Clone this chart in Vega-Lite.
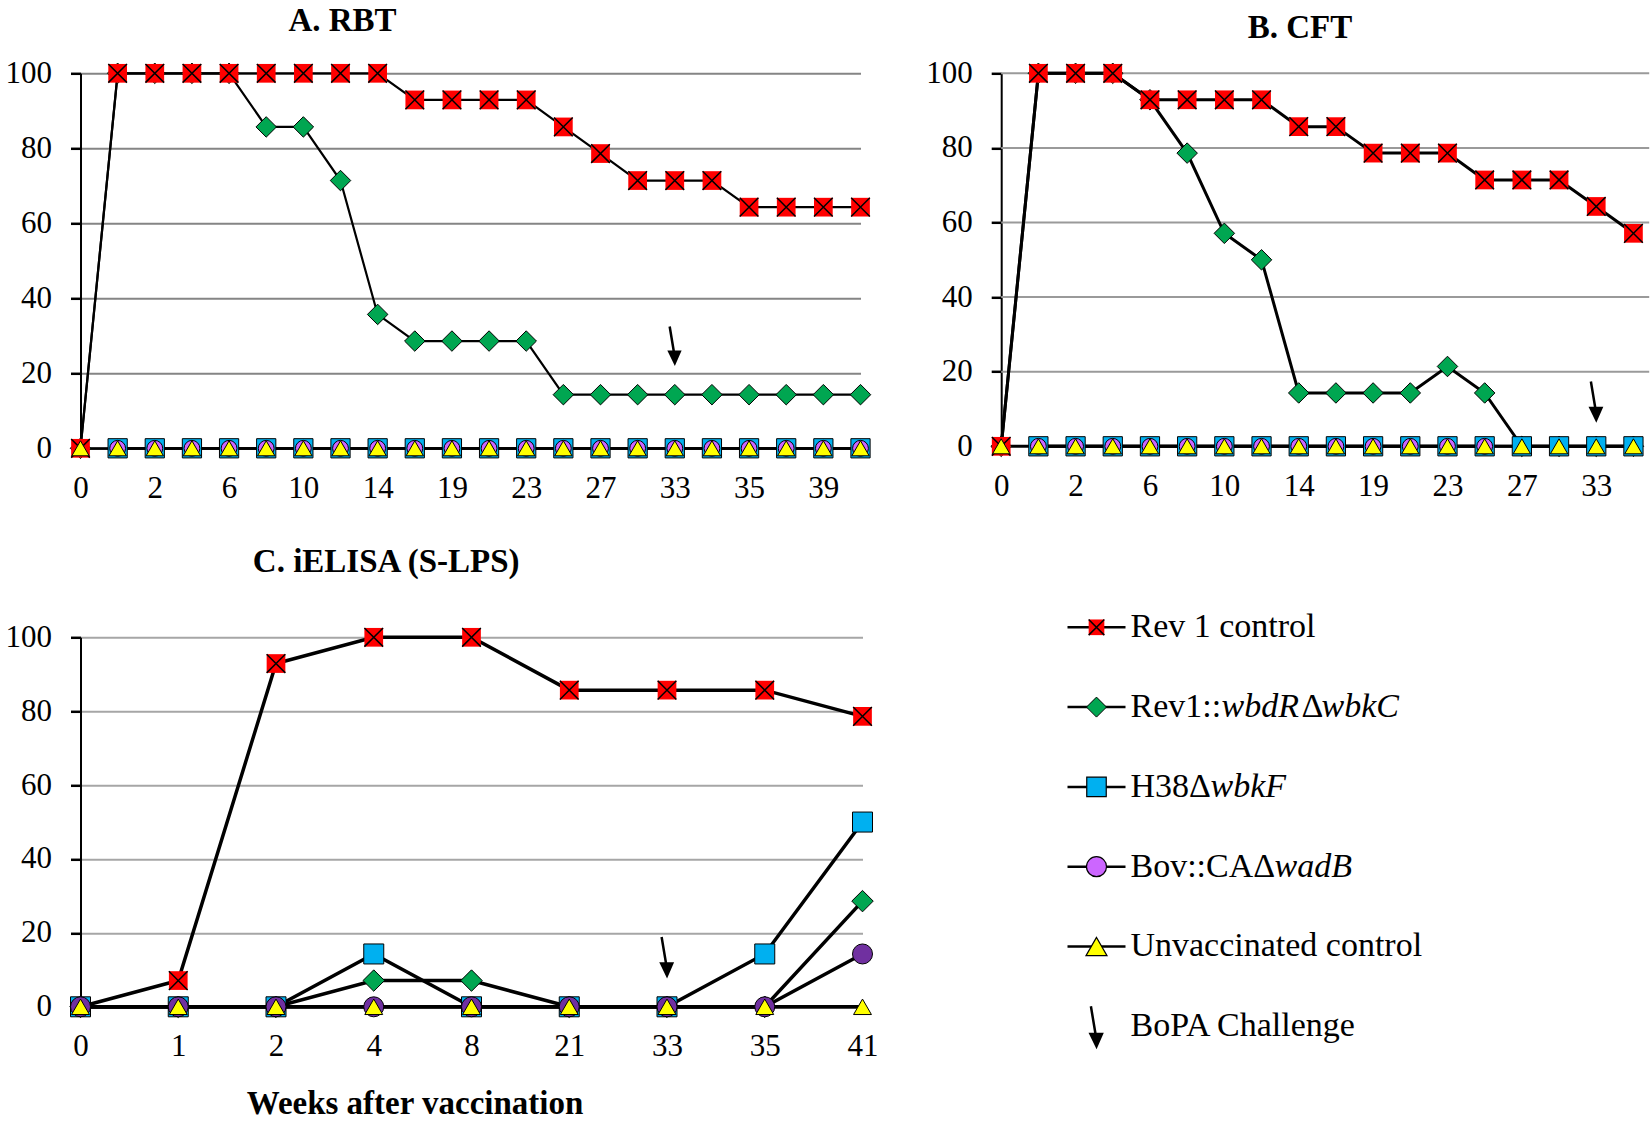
{
  "$schema": "https://vega.github.io/schema/vega-lite/v6.json",
  "usermeta": {"embedOptions": {"actions": false}},
  "background": "white",
  "padding": {"left": 4.5, "top": 4.3, "right": 0, "bottom": 0},
  "config": {
    "view": {"stroke": null},
    "font": "Liberation Serif",
    "title": {"font": "Liberation Serif", "fontSize": 33, "fontWeight": "bold", "color": "black"},
    "axis": {"labelFont": "Liberation Serif", "labelFontSize": 31, "labelColor": "black", "domainColor": "black", "domainWidth": 2, "tickColor": "black", "tickWidth": 2.5, "tickSize": 10, "gridWidth": 2, "gridOpacity": 1, "titleFont": "Liberation Serif", "titleColor": "black"},
    "axisX": {"ticks": false, "labelPadding": 25, "labelAngle": 0, "grid": false, "labelOverlap": false},
    "axisY": {"labelPadding": 19}
  },
  "datasets": {
    "rbt": [
      {"w":0,"s":"rev","v":0},{"w":1,"s":"rev","v":100},{"w":2,"s":"rev","v":100},{"w":4,"s":"rev","v":100},{"w":6,"s":"rev","v":100},{"w":8,"s":"rev","v":100},{"w":10,"s":"rev","v":100},{"w":12,"s":"rev","v":100},{"w":14,"s":"rev","v":100},{"w":16,"s":"rev","v":92.9},{"w":19,"s":"rev","v":92.9},{"w":21,"s":"rev","v":92.9},{"w":23,"s":"rev","v":92.9},{"w":25,"s":"rev","v":85.7},{"w":27,"s":"rev","v":78.6},{"w":29,"s":"rev","v":71.4},{"w":33,"s":"rev","v":71.4},{"w":34,"s":"rev","v":71.4},{"w":35,"s":"rev","v":64.3},{"w":37,"s":"rev","v":64.3},{"w":39,"s":"rev","v":64.3},{"w":41,"s":"rev","v":64.3},
      {"w":0,"s":"wbdR","v":0},{"w":1,"s":"wbdR","v":100},{"w":2,"s":"wbdR","v":100},{"w":4,"s":"wbdR","v":100},{"w":6,"s":"wbdR","v":100},{"w":8,"s":"wbdR","v":85.7},{"w":10,"s":"wbdR","v":85.7},{"w":12,"s":"wbdR","v":71.4},{"w":14,"s":"wbdR","v":35.7},{"w":16,"s":"wbdR","v":28.6},{"w":19,"s":"wbdR","v":28.6},{"w":21,"s":"wbdR","v":28.6},{"w":23,"s":"wbdR","v":28.6},{"w":25,"s":"wbdR","v":14.3},{"w":27,"s":"wbdR","v":14.3},{"w":29,"s":"wbdR","v":14.3},{"w":33,"s":"wbdR","v":14.3},{"w":34,"s":"wbdR","v":14.3},{"w":35,"s":"wbdR","v":14.3},{"w":37,"s":"wbdR","v":14.3},{"w":39,"s":"wbdR","v":14.3},{"w":41,"s":"wbdR","v":14.3},
      {"w":1,"s":"h38","v":0},{"w":2,"s":"h38","v":0},{"w":4,"s":"h38","v":0},{"w":6,"s":"h38","v":0},{"w":8,"s":"h38","v":0},{"w":10,"s":"h38","v":0},{"w":12,"s":"h38","v":0},{"w":14,"s":"h38","v":0},{"w":16,"s":"h38","v":0},{"w":19,"s":"h38","v":0},{"w":21,"s":"h38","v":0},{"w":23,"s":"h38","v":0},{"w":25,"s":"h38","v":0},{"w":27,"s":"h38","v":0},{"w":29,"s":"h38","v":0},{"w":33,"s":"h38","v":0},{"w":34,"s":"h38","v":0},{"w":35,"s":"h38","v":0},{"w":37,"s":"h38","v":0},{"w":39,"s":"h38","v":0},{"w":41,"s":"h38","v":0},
      {"w":1,"s":"bov","v":0},{"w":2,"s":"bov","v":0},{"w":4,"s":"bov","v":0},{"w":6,"s":"bov","v":0},{"w":8,"s":"bov","v":0},{"w":10,"s":"bov","v":0},{"w":12,"s":"bov","v":0},{"w":14,"s":"bov","v":0},{"w":16,"s":"bov","v":0},{"w":19,"s":"bov","v":0},{"w":21,"s":"bov","v":0},{"w":23,"s":"bov","v":0},{"w":25,"s":"bov","v":0},{"w":27,"s":"bov","v":0},{"w":29,"s":"bov","v":0},{"w":33,"s":"bov","v":0},{"w":34,"s":"bov","v":0},{"w":35,"s":"bov","v":0},{"w":37,"s":"bov","v":0},{"w":39,"s":"bov","v":0},{"w":41,"s":"bov","v":0},
      {"w":0,"s":"unv","v":0},{"w":1,"s":"unv","v":0},{"w":2,"s":"unv","v":0},{"w":4,"s":"unv","v":0},{"w":6,"s":"unv","v":0},{"w":8,"s":"unv","v":0},{"w":10,"s":"unv","v":0},{"w":12,"s":"unv","v":0},{"w":14,"s":"unv","v":0},{"w":16,"s":"unv","v":0},{"w":19,"s":"unv","v":0},{"w":21,"s":"unv","v":0},{"w":23,"s":"unv","v":0},{"w":25,"s":"unv","v":0},{"w":27,"s":"unv","v":0},{"w":29,"s":"unv","v":0},{"w":33,"s":"unv","v":0},{"w":34,"s":"unv","v":0},{"w":35,"s":"unv","v":0},{"w":37,"s":"unv","v":0},{"w":39,"s":"unv","v":0},{"w":41,"s":"unv","v":0}
    ],
    "cft": [
      {"w":0,"s":"rev","v":0},{"w":1,"s":"rev","v":100},{"w":2,"s":"rev","v":100},{"w":4,"s":"rev","v":100},{"w":6,"s":"rev","v":92.9},{"w":8,"s":"rev","v":92.9},{"w":10,"s":"rev","v":92.9},{"w":12,"s":"rev","v":92.9},{"w":14,"s":"rev","v":85.7},{"w":16,"s":"rev","v":85.7},{"w":19,"s":"rev","v":78.6},{"w":21,"s":"rev","v":78.6},{"w":23,"s":"rev","v":78.6},{"w":25,"s":"rev","v":71.4},{"w":27,"s":"rev","v":71.4},{"w":29,"s":"rev","v":71.4},{"w":33,"s":"rev","v":64.3},{"w":34,"s":"rev","v":57.1},
      {"w":0,"s":"wbdR","v":0},{"w":1,"s":"wbdR","v":100},{"w":2,"s":"wbdR","v":100},{"w":4,"s":"wbdR","v":100},{"w":6,"s":"wbdR","v":92.9},{"w":8,"s":"wbdR","v":78.6},{"w":10,"s":"wbdR","v":57.1},{"w":12,"s":"wbdR","v":50},{"w":14,"s":"wbdR","v":14.3},{"w":16,"s":"wbdR","v":14.3},{"w":19,"s":"wbdR","v":14.3},{"w":21,"s":"wbdR","v":14.3},{"w":23,"s":"wbdR","v":21.4},{"w":25,"s":"wbdR","v":14.3},{"w":27,"s":"wbdR","v":0},{"w":29,"s":"wbdR","v":0},{"w":33,"s":"wbdR","v":0},{"w":34,"s":"wbdR","v":0},
      {"w":1,"s":"h38","v":0},{"w":2,"s":"h38","v":0},{"w":4,"s":"h38","v":0},{"w":6,"s":"h38","v":0},{"w":8,"s":"h38","v":0},{"w":10,"s":"h38","v":0},{"w":12,"s":"h38","v":0},{"w":14,"s":"h38","v":0},{"w":16,"s":"h38","v":0},{"w":19,"s":"h38","v":0},{"w":21,"s":"h38","v":0},{"w":23,"s":"h38","v":0},{"w":25,"s":"h38","v":0},{"w":27,"s":"h38","v":0},{"w":29,"s":"h38","v":0},{"w":33,"s":"h38","v":0},{"w":34,"s":"h38","v":0},
      {"w":1,"s":"bov","v":0},{"w":2,"s":"bov","v":0},{"w":4,"s":"bov","v":0},{"w":6,"s":"bov","v":0},{"w":8,"s":"bov","v":0},{"w":10,"s":"bov","v":0},{"w":12,"s":"bov","v":0},{"w":14,"s":"bov","v":0},{"w":16,"s":"bov","v":0},{"w":19,"s":"bov","v":0},{"w":21,"s":"bov","v":0},{"w":23,"s":"bov","v":0},{"w":25,"s":"bov","v":0},
      {"w":0,"s":"unv","v":0},{"w":1,"s":"unv","v":0},{"w":2,"s":"unv","v":0},{"w":4,"s":"unv","v":0},{"w":6,"s":"unv","v":0},{"w":8,"s":"unv","v":0},{"w":10,"s":"unv","v":0},{"w":12,"s":"unv","v":0},{"w":14,"s":"unv","v":0},{"w":16,"s":"unv","v":0},{"w":19,"s":"unv","v":0},{"w":21,"s":"unv","v":0},{"w":23,"s":"unv","v":0},{"w":25,"s":"unv","v":0},{"w":27,"s":"unv","v":0},{"w":29,"s":"unv","v":0},{"w":33,"s":"unv","v":0},{"w":34,"s":"unv","v":0}
    ],
    "elisa": [
      {"w":0,"s":"rev","v":0},{"w":1,"s":"rev","v":7.1},{"w":2,"s":"rev","v":92.9},{"w":4,"s":"rev","v":100},{"w":8,"s":"rev","v":100},{"w":21,"s":"rev","v":85.7},{"w":33,"s":"rev","v":85.7},{"w":35,"s":"rev","v":85.7},{"w":41,"s":"rev","v":78.6},
      {"w":0,"s":"wbdR","v":0},{"w":1,"s":"wbdR","v":0},{"w":2,"s":"wbdR","v":0},{"w":4,"s":"wbdR","v":7.1},{"w":8,"s":"wbdR","v":7.1},{"w":21,"s":"wbdR","v":0},{"w":33,"s":"wbdR","v":0},{"w":35,"s":"wbdR","v":0},{"w":41,"s":"wbdR","v":28.6},
      {"w":0,"s":"h38","v":0},{"w":1,"s":"h38","v":0},{"w":2,"s":"h38","v":0},{"w":4,"s":"h38","v":14.3},{"w":8,"s":"h38","v":0},{"w":21,"s":"h38","v":0},{"w":33,"s":"h38","v":0},{"w":35,"s":"h38","v":14.3},{"w":41,"s":"h38","v":50},
      {"w":0,"s":"bov","v":0},{"w":1,"s":"bov","v":0},{"w":2,"s":"bov","v":0},{"w":4,"s":"bov","v":0},{"w":8,"s":"bov","v":0},{"w":21,"s":"bov","v":0},{"w":33,"s":"bov","v":0},{"w":35,"s":"bov","v":0},{"w":41,"s":"bov","v":14.3},
      {"w":0,"s":"unv","v":0},{"w":1,"s":"unv","v":0},{"w":2,"s":"unv","v":0},{"w":4,"s":"unv","v":0},{"w":8,"s":"unv","v":0},{"w":21,"s":"unv","v":0},{"w":33,"s":"unv","v":0},{"w":35,"s":"unv","v":0},{"w":41,"s":"unv","v":0}
    ]
  },
  "columns": 2,
  "bounds": "flush",
  "spacing": {"row": 189, "column": 138.7},
  "concat": [
    {
      "width": 780, "height": 375,
      "title": {"text": "A. RBT", "anchor": "middle", "frame": "group", "dx": -128, "dy": 6.6, "offset": 0, "baseline": "alphabetic"},
      "data": {"name": "rbt"},
      "encoding": {
        "x": {"field": "w", "type": "ordinal", "scale": {"type": "point", "padding": 0, "domain": [0,1,2,4,6,8,10,12,14,16,19,21,23,25,27,29,33,34,35,37,39,41]}, "axis": {"labelExpr": "indexof([0,2,6,10,14,19,23,27,33,35,39], datum.value) >= 0 ? '' + datum.value : ''", "title": null, "labelFont": "Liberation Serif", "labelOverlap": false}},
        "y": {"field": "v", "type": "quantitative", "scale": {"domain": [0,100]}, "axis": {"values": [0,20,40,60,80,100], "title": null, "grid": true, "gridColor": "#858585", "labelFont": "Liberation Serif"}}
      },
      "layer": [
        {"mark": {"type": "line", "color": "black", "strokeWidth": 2.2}, "encoding": {"detail": {"field": "s"}}},
        {"transform": [{"filter": "datum.s == 'wbdR'"}], "mark": {"type": "point", "shape": "diamond", "size": 420, "filled": true, "fill": "#00A651", "stroke": "black", "strokeWidth": 1, "opacity": 1}},
        {"transform": [{"filter": "datum.s == 'rev'"}], "mark": {"type": "point", "shape": "square", "size": 350, "filled": true, "fill": "#FF0000", "strokeWidth": 0, "opacity": 1}},
        {"transform": [{"filter": "datum.s == 'rev'"}], "mark": {"type": "point", "shape": "M-1,-1L1,1M1,-1L-1,1", "size": 350, "filled": false, "stroke": "black", "strokeWidth": 1.5, "opacity": 1}},
        {"transform": [{"filter": "datum.s == 'h38'"}], "mark": {"type": "point", "shape": "square", "size": 370, "filled": true, "fill": "#00B0F0", "stroke": "black", "strokeWidth": 1, "opacity": 1}},
        {"transform": [{"filter": "datum.s == 'bov'"}], "mark": {"type": "point", "shape": "circle", "size": 250, "filled": true, "fill": "#CC66FF", "stroke": "black", "strokeWidth": 1, "opacity": 1}},
        {"transform": [{"filter": "datum.s == 'unv'"}], "mark": {"type": "point", "shape": "triangle-up", "size": 300, "filled": true, "fill": "#FFFF00", "stroke": "black", "strokeWidth": 1, "opacity": 1}},
        {"data": {"values": [{"w": 33, "v": 27.6}]}, "mark": {"type": "point", "shape": "M-0.28,-1L-0.03,0.5M-0.3,0.38L0,1L0.27,0.38Z", "size": 1332, "filled": true, "fill": "black", "stroke": "black", "strokeWidth": 2.5, "opacity": 1}}
      ]
    },
    {
      "width": 648, "height": 373,
      "title": {"text": "B. CFT", "anchor": "middle", "frame": "group", "dx": -25.2, "dy": 13.6, "offset": 0, "baseline": "alphabetic"},
      "layer": [
        {
          "data": {"values": [{"g": 20}, {"g": 40}, {"g": 60}, {"g": 80}, {"g": 100}]},
          "mark": {"type": "rule", "color": "#9a9a9a", "strokeWidth": 2},
          "encoding": {"y": {"field": "g", "type": "quantitative", "scale": {"domain": [0,100]}, "axis": {"values": [0,20,40,60,80,100], "title": null, "grid": false, "labelFont": "Liberation Serif"}}}
        },
        {
          "data": {"name": "cft"},
          "encoding": {
            "x": {"field": "w", "type": "ordinal", "scale": {"type": "point", "padding": 0, "range": [0, 781], "domain": [0,1,2,4,6,8,10,12,14,16,19,21,23,25,27,29,33,34,35,37,39,41]}, "axis": {"values": [0,2,6,10,14,19,23,27,33], "title": null, "domain": false, "labelFont": "Liberation Serif", "labelOverlap": false}},
            "y": {"field": "v", "type": "quantitative", "scale": {"domain": [0,100]}, "axis": {"values": [0,20,40,60,80,100], "title": null, "grid": false, "labelFont": "Liberation Serif"}}
          },
          "layer": [
            {"mark": {"type": "line", "color": "black", "strokeWidth": 3}, "encoding": {"detail": {"field": "s"}}},
            {"transform": [{"filter": "datum.s == 'wbdR'"}], "mark": {"type": "point", "shape": "diamond", "size": 420, "filled": true, "fill": "#00A651", "stroke": "black", "strokeWidth": 1, "opacity": 1}},
            {"transform": [{"filter": "datum.s == 'rev'"}], "mark": {"type": "point", "shape": "square", "size": 350, "filled": true, "fill": "#FF0000", "strokeWidth": 0, "opacity": 1}},
            {"transform": [{"filter": "datum.s == 'rev'"}], "mark": {"type": "point", "shape": "M-1,-1L1,1M1,-1L-1,1", "size": 350, "filled": false, "stroke": "black", "strokeWidth": 1.5, "opacity": 1}},
            {"transform": [{"filter": "datum.s == 'h38'"}], "mark": {"type": "point", "shape": "square", "size": 370, "filled": true, "fill": "#00B0F0", "stroke": "black", "strokeWidth": 1, "opacity": 1}},
            {"transform": [{"filter": "datum.s == 'bov'"}], "mark": {"type": "point", "shape": "circle", "size": 250, "filled": true, "fill": "#CC66FF", "stroke": "black", "strokeWidth": 1, "opacity": 1}},
            {"transform": [{"filter": "datum.s == 'unv'"}], "mark": {"type": "point", "shape": "triangle-up", "size": 300, "filled": true, "fill": "#FFFF00", "stroke": "black", "strokeWidth": 1, "opacity": 1}},
            {"data": {"values": [{"w": 33, "v": 12.25}]}, "mark": {"type": "point", "shape": "M-0.28,-1L-0.03,0.5M-0.3,0.38L0,1L0.27,0.38Z", "size": 1467, "filled": true, "fill": "black", "stroke": "black", "strokeWidth": 2.5, "opacity": 1}}
          ]
        }
      ]
    },
    {
      "width": 782, "height": 369.5,
      "title": {"text": "C. iELISA (S-LPS)", "anchor": "middle", "frame": "group", "dx": -85.3, "dy": -16, "offset": 0, "baseline": "alphabetic"},
      "data": {"name": "elisa"},
      "encoding": {
        "x": {"field": "w", "type": "ordinal", "scale": {"type": "point", "padding": 0, "domain": [0,1,2,4,8,21,33,35,41]}, "axis": {"title": "Weeks after vaccination", "titleFontSize": 33, "titleFontWeight": "bold", "titleX": 334, "titleY": 107, "titleBaseline": "alphabetic", "titleAlign": "center", "labelFont": "Liberation Serif", "labelOverlap": false}},
        "y": {"field": "v", "type": "quantitative", "scale": {"domain": [0,100]}, "axis": {"values": [0,20,40,60,80,100], "title": null, "grid": true, "gridColor": "#a6a6a6", "labelFont": "Liberation Serif"}}
      },
      "layer": [
        {"mark": {"type": "line", "color": "black", "strokeWidth": 3.5}, "encoding": {"detail": {"field": "s"}}},
        {"transform": [{"filter": "datum.s == 'wbdR'"}], "mark": {"type": "point", "shape": "diamond", "size": 460, "filled": true, "fill": "#00A651", "stroke": "black", "strokeWidth": 1, "opacity": 1}},
        {"transform": [{"filter": "datum.s == 'rev'"}], "mark": {"type": "point", "shape": "square", "size": 350, "filled": true, "fill": "#FF0000", "strokeWidth": 0, "opacity": 1}},
        {"transform": [{"filter": "datum.s == 'rev'"}], "mark": {"type": "point", "shape": "M-1,-1L1,1M1,-1L-1,1", "size": 350, "filled": false, "stroke": "black", "strokeWidth": 1.5, "opacity": 1}},
        {"transform": [{"filter": "datum.s == 'h38'"}], "mark": {"type": "point", "shape": "square", "size": 400, "filled": true, "fill": "#00B0F0", "stroke": "black", "strokeWidth": 1, "opacity": 1}},
        {"transform": [{"filter": "datum.s == 'bov'"}], "mark": {"type": "point", "shape": "circle", "size": 400, "filled": true, "fill": "#7030A0", "stroke": "black", "strokeWidth": 1, "opacity": 1}},
        {"transform": [{"filter": "datum.s == 'unv'"}], "mark": {"type": "point", "shape": "triangle-up", "size": 320, "filled": true, "fill": "#FFFF00", "stroke": "black", "strokeWidth": 1, "opacity": 1}},
        {"data": {"values": [{"w": 33, "v": 13.7}]}, "mark": {"type": "point", "shape": "M-0.28,-1L-0.03,0.5M-0.3,0.38L0,1L0.27,0.38Z", "size": 1482, "filled": true, "fill": "black", "stroke": "black", "strokeWidth": 2.5, "opacity": 1}}
      ]
    },
    {
      "width": 190.6, "height": 389,
      "data": {"values": [
        {"k": "rev", "t1": "Rev 1 control"},
        {"k": "wbdR", "t1": "Rev1::", "i1": "wbdR", "t2": "Δ", "i2": "wbkC"},
        {"k": "h38", "t1": "H38Δ", "i1": "wbkF"},
        {"k": "bov", "t1": "Bov::CAΔ", "i1": "wadB"},
        {"k": "unv", "t1": "Unvaccinated control"},
        {"k": "bopa", "t1": "BoPA Challenge"}
      ]},
      "encoding": {"y": {"field": "k", "type": "nominal", "scale": {"type": "point", "domain": ["rev","wbdR","h38","bov","unv","bopa"], "range": [-10, 389], "padding": 0}, "axis": null}},
      "layer": [
        {"transform": [{"filter": "datum.k != 'bopa'"}], "mark": {"type": "point", "shape": "M-1,0H1", "size": 3364, "filled": false, "stroke": "black", "strokeWidth": 2.5, "opacity": 1}},
        {"transform": [{"filter": "datum.k == 'rev'"}], "mark": {"type": "point", "shape": "square", "size": 245, "filled": true, "fill": "#FF0000", "strokeWidth": 0, "opacity": 1}},
        {"transform": [{"filter": "datum.k == 'rev'"}], "mark": {"type": "point", "shape": "M-1,-1L1,1M1,-1L-1,1", "size": 245, "filled": false, "stroke": "black", "strokeWidth": 1.5, "opacity": 1}},
        {"transform": [{"filter": "datum.k == 'wbdR'"}], "mark": {"type": "point", "shape": "diamond", "size": 400, "filled": true, "fill": "#00A651", "stroke": "black", "strokeWidth": 1, "opacity": 1}},
        {"transform": [{"filter": "datum.k == 'h38'"}], "mark": {"type": "point", "shape": "square", "size": 380, "filled": true, "fill": "#00B0F0", "stroke": "black", "strokeWidth": 1.2, "opacity": 1}},
        {"transform": [{"filter": "datum.k == 'bov'"}], "mark": {"type": "point", "shape": "circle", "size": 400, "filled": true, "fill": "#CC66FF", "stroke": "black", "strokeWidth": 1.2, "opacity": 1}},
        {"transform": [{"filter": "datum.k == 'unv'"}], "mark": {"type": "point", "shape": "triangle-up", "size": 441, "filled": true, "fill": "#FFFF00", "stroke": "black", "strokeWidth": 1.2, "opacity": 1}},
        {"transform": [{"filter": "datum.k == 'bopa'"}], "mark": {"type": "point", "shape": "M-0.28,-1L-0.03,0.5M-0.3,0.38L0,1L0.27,0.38Z", "size": 1600, "filled": true, "fill": "black", "stroke": "black", "strokeWidth": 2.5, "opacity": 1}},
        {"mark": {"type": "text", "align": "left", "baseline": "middle", "dx": 34, "font": "Liberation Serif", "fontSize": 34, "color": "black"}, "encoding": {"text": {"field": "t1"}}},
        {"transform": [{"filter": "datum.k == 'wbdR'"}], "mark": {"type": "text", "align": "left", "baseline": "middle", "dx": 125, "font": "Liberation Serif", "fontStyle": "italic", "fontSize": 34, "color": "black"}, "encoding": {"text": {"field": "i1"}}},
        {"transform": [{"filter": "datum.k == 'wbdR'"}], "mark": {"type": "text", "align": "left", "baseline": "middle", "dx": 205, "font": "Liberation Serif", "fontSize": 34, "color": "black"}, "encoding": {"text": {"field": "t2"}}},
        {"transform": [{"filter": "datum.k == 'wbdR'"}], "mark": {"type": "text", "align": "left", "baseline": "middle", "dx": 225, "font": "Liberation Serif", "fontStyle": "italic", "fontSize": 34, "color": "black"}, "encoding": {"text": {"field": "i2"}}},
        {"transform": [{"filter": "datum.k == 'h38'"}], "mark": {"type": "text", "align": "left", "baseline": "middle", "dx": 114, "font": "Liberation Serif", "fontStyle": "italic", "fontSize": 34, "color": "black"}, "encoding": {"text": {"field": "i1"}}},
        {"transform": [{"filter": "datum.k == 'bov'"}], "mark": {"type": "text", "align": "left", "baseline": "middle", "dx": 178, "font": "Liberation Serif", "fontStyle": "italic", "fontSize": 34, "color": "black"}, "encoding": {"text": {"field": "i1"}}}
      ]
    }
  ]
}
